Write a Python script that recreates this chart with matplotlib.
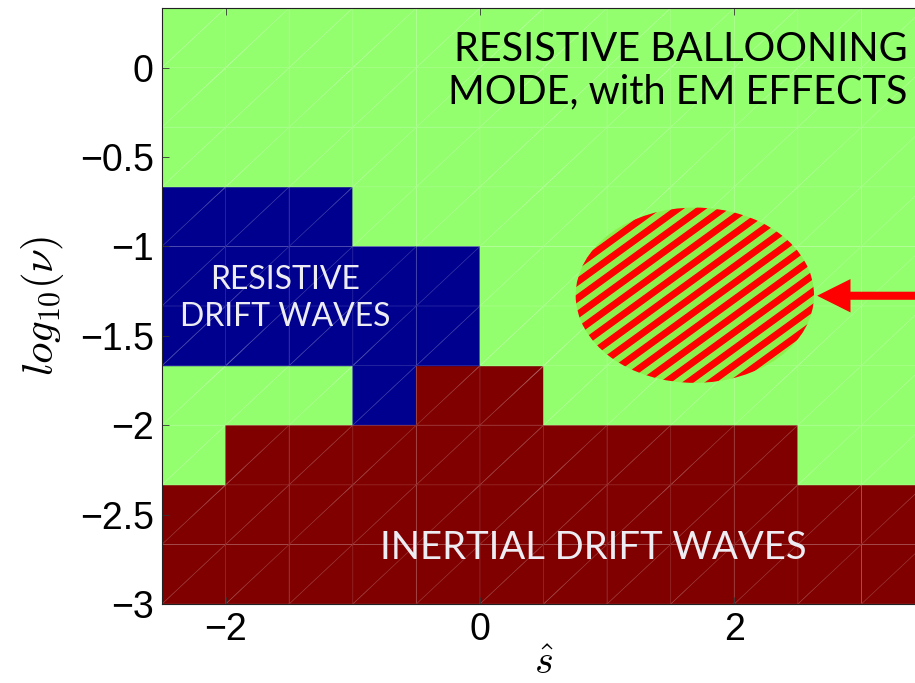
import numpy as np
import matplotlib
matplotlib.use("Agg")
import matplotlib.pyplot as plt
from matplotlib.colors import ListedColormap
from matplotlib.patches import Ellipse, FancyArrowPatch
import matplotlib.tri as mtri

plt.rcParams["mathtext.fontset"] = "cm"

# stability map on the (s_hat, log10 nu) grid
# 0 = resistive ballooning, 1 = resistive drift waves, 2 = inertial drift waves
s_edges = np.arange(-2.5, 3.51, 0.5)
nu_edges = np.linspace(-3, 1/3, 11)
mode_rows = [  # top row first
    "000000000000",
    "000000000000",
    "000000000000",
    "111000000000",
    "111110000000",
    "111110000000",
    "000122000000",
    "022222222200",
    "222222222222",
    "222222222222",
]
modes = np.array([[int(c) for c in r] for r in mode_rows[::-1]])

mode_colors = ["#93fe6e", "#00008f", "#800000"]

# hatched region and arrow
ell_center = (1.69, -1.273)
ell_size = (1.874, 0.98)
arrow_y = -1.276

fig = plt.figure(figsize=(9.15, 6.83), dpi=100)
ax = fig.add_axes([162/915, 79/683, 763/915, 596/683])

# split each cell along its diagonal, the way the map was triangulated
X, Y = np.meshgrid(s_edges, nu_edges)
nx = len(s_edges)
tris, vals = [], []
for j in range(len(nu_edges) - 1):
    for i in range(nx - 1):
        p00 = j * nx + i
        p10 = p00 + 1
        p01 = p00 + nx
        p11 = p01 + 1
        tris += [[p00, p10, p11], [p00, p11, p01]]
        vals += [modes[j, i]] * 2
tri = mtri.Triangulation(X.ravel(), Y.ravel(), tris)
ax.tripcolor(tri, facecolors=np.array(vals, float), cmap=ListedColormap(mode_colors),
             vmin=-0.5, vmax=2.5, edgecolors="face", linewidth=0.3)
ax.triplot(tri, color="white", alpha=0.16, lw=0.6)

# striped ellipse
ell = Ellipse(ell_center, ell_size[0], ell_size[1], facecolor="#8cf04c", edgecolor="none", zorder=3)
ax.add_patch(ell)
# stripes in display space so the angle is set on screen
ax.set_xlim(s_edges[0], s_edges[-1])
ax.set_ylim(nu_edges[0], nu_edges[-1])
fig.canvas.draw()
cx, cy = ax.transData.transform(ell_center)
ang = np.deg2rad(36)
d = np.array([np.cos(ang), np.sin(ang)])
n = np.array([-np.sin(ang), np.cos(ang)])
period = 13.3
inv = ax.transData.inverted()
for k in np.arange(-14, 15):
    c = np.array([cx, cy]) + n * k * period
    pts = np.array([c - d * 200, c + d * 200])
    dp = inv.transform(pts)
    line, = ax.plot(dp[:, 0], dp[:, 1], color="#ff0000", lw=5.0, solid_capstyle="butt", zorder=4)
    line.set_clip_path(ell)

arr = FancyArrowPatch((3.7, arrow_y), (2.63, arrow_y),
                      arrowstyle="simple,head_length=2.4,head_width=2.4,tail_width=0.58",
                      mutation_scale=10, color="#ff0000", lw=0, zorder=5, clip_on=False)
ax.add_patch(arr)

lab_font = "Lato"
ax.text(3.36, -0.017, "RESISTIVE BALLOONING\nMODE, with EM EFFECTS", ha="right", va="center",
        fontsize=28.5, family=lab_font, color="black", linespacing=1.2, zorder=6)
ax.text(-1.53, -1.29, "RESISTIVE\nDRIFT WAVES", ha="center", va="center",
        fontsize=23, family=lab_font, color="#ececf2", linespacing=1.3, zorder=6)
ax.text(0.89, -2.686, "INERTIAL DRIFT WAVES", ha="center", va="center",
        fontsize=27.5, family=lab_font, color="#ececf2", zorder=6)

ax.set_xticks([-2, 0, 2])
ax.set_xticklabels(["\u22122", "0", "2"])
ax.set_yticks([0, -0.5, -1, -1.5, -2, -2.5, -3])
ax.set_yticklabels(["0", "\u22120.5", "\u22121", "\u22121.5", "\u22122", "\u22122.5", "\u22123"])
ax.tick_params(direction="in", length=5, width=0.6, color="#333333", labelsize=27, pad=6,
               top=True, right=True)
for lbl in ax.get_xticklabels() + ax.get_yticklabels():
    lbl.set_family("Liberation Sans")
for sp in ax.spines.values():
    sp.set_linewidth(0.8)
    sp.set_color("#222222")

ax.set_ylabel(r"$log_{10}(\nu)$", fontsize=31, labelpad=10)
ax.set_xlabel(r"$\hat{s}$", fontsize=29, labelpad=-4)

fig.savefig("out.png", dpi=100)
